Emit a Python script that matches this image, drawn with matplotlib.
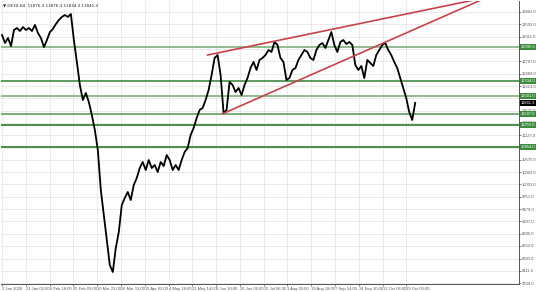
import numpy as np
import matplotlib
matplotlib.use('Agg')
import matplotlib.pyplot as plt

plt.rcParams['font.family'] = ['Liberation Sans Narrow', 'Liberation Sans', 'DejaVu Sans']

#-------------------------------------------------------------------------------
# DE30 H4, sampled every 9 bars (read off the picture)
close = [13350, 13172, 13283, 13105, 13461, 13505, 13438, 13527, 13461, 13505,
         13438, 13572, 13394, 13283, 13083, 13238, 13416, 13483, 13594, 13683,
         13750, 13794, 13750, 13816, 13238, 12750, 12239, 11905, 12061, 11861,
         11572, 11239, 10794, 9905, 9350, 8794, 8239, 8083, 8617, 8972,
         9572, 9728, 9861, 9683, 10017, 10172, 10394, 10528, 10350, 10572,
         10394, 10461, 10305, 10528, 10439, 10683, 10572, 10350, 10461, 10350,
         10572, 10750, 10839, 11128, 11283, 11505, 11683, 11728, 11905, 12127,
         12461, 12839, 12905, 12461, 11616, 11683, 12305, 12239, 12083, 12172,
         12016, 12239, 12394, 12616, 12750, 12572, 12794, 12839, 12905, 13016,
         12972, 13194, 13127, 12839, 12750, 12350, 12394, 12572, 12616, 12794,
         12905, 13016, 12972, 12839, 12794, 13016, 13127, 13172, 13061, 13238,
         13416, 13127, 12972, 13194, 13238, 13150, 13194, 13127, 12683, 12572,
         12661, 12394, 12794, 12727, 12661, 12905, 13016, 13127, 13172, 13016,
         12905, 12750, 12616, 12394, 12172, 11950, 11639, 11461, 11841.3]
bar_step = 9

date_labels = ['1 Jan 2020', '21 Jan 02:00', '6 Feb 18:00', '25 Feb 09:00', '10 Mar 21:00',
               '26 Mar 13:00', '15 Apr 02:00', '4 May 18:00', '21 May 14:00', '9 Jun 10:00',
               '26 Jun 06:00', '15 Jul 06:00', '3 Aug 02:00', '19 Aug 18:00', '7 Sep 14:00',
               '24 Sep 10:00', '13 Oct 06:00', '29 Oct 05:00']
price_ticks = [7839.0, 8111.0, 8383.0, 8663.0, 8935.0, 9207.0, 9479.0, 9751.0, 10031.0,
               10303.0, 10575.0, 10847.0, 11127.0, 11399.0, 11671.0, 11943.0, 12213.0,
               12489.0, 12767.0, 13039.0, 13311.0, 13591.0, 13862.0]
hidden_ticks = [10847.0, 11943.0, 13039.0]   # covered by level labels
levels = [13090.0, 12334.0, 12001.0, 11587.0, 11350.0, 10854.0]
level_colors = ['#86b686', '#4f944f', '#86b686', '#6fa66f', '#3a873a', '#3a873a']
# trend lines: (bar, price) pairs
upper_trend = [(618, 12905), (1317, 13972)]
lower_trend = [(663, 11600), (1317, 13727)]
title = 'DE30,H4  11876.3 11876.3 11834.3 11841.3'
#-------------------------------------------------------------------------------

fs = 3.0
fig = plt.figure(figsize=(5.36, 2.92), dpi=100)
ax = fig.add_axes([0.0019, 1 - 284/292, 519/536 - 0.0019, 283/292])

x = np.arange(len(close)) * bar_step
ax.plot(x, close, color='black', lw=1.3, zorder=3)

for lv, c in zip(levels, level_colors):
    ax.axhline(lv, color=c, lw=1.3, zorder=2)

for tl in (upper_trend, lower_trend):
    (x0, y0), (x1, y1) = tl
    slope = (y1 - y0) / (x1 - x0)
    xe = 1480
    ax.plot([x0, xe], [y0, y0 + slope * (xe - x0)], color='#c8424c', lw=1.2, zorder=4)

ax.set_xlim(-3, 1554)
ax.set_ylim(7817, 14105)

xt = np.arange(len(date_labels)) * 71.5
ax.set_xticks(xt)
ax.set_xticklabels(date_labels, fontsize=fs, ha='left', color='#222222')
ax.set_yticks(price_ticks)
ax.set_yticklabels(['' if v in hidden_ticks else '%.1f' % v for v in price_ticks],
                   fontsize=fs, color='#222222')
ax.yaxis.tick_right()
ax.tick_params(axis='both', length=1.6, width=0.5, pad=0.5, colors='#555555')
ax.grid(True, color='#e2e2e2', lw=0.5, zorder=0)
ax.set_axisbelow(True)
for s in ['top', 'left']:
    ax.spines[s].set_visible(False)
for s in ['right', 'bottom']:
    ax.spines[s].set_color('#555555')
    ax.spines[s].set_linewidth(0.7)

# price labels on the right axis
for lv, c in zip(levels, level_colors):
    ax.text(1.004, lv, '%.1f' % lv, transform=ax.get_yaxis_transform(), fontsize=fs,
            color='white', va='center', ha='left',
            bbox=dict(boxstyle='square,pad=0.2', fc='#3c8a3c', ec='none'))
ax.text(1.004, close[-1], '%.1f' % close[-1], transform=ax.get_yaxis_transform(), fontsize=fs,
        color='white', va='center', ha='left',
        bbox=dict(boxstyle='square,pad=0.2', fc='black', ec='none'))

ax.text(0.004, 0.99, '\u25bc ' + title, transform=ax.transAxes, fontsize=fs,
        va='top', ha='left', color='#222222', family=['Liberation Sans Narrow', 'DejaVu Sans'])

plt.savefig('out.png', dpi=100)
